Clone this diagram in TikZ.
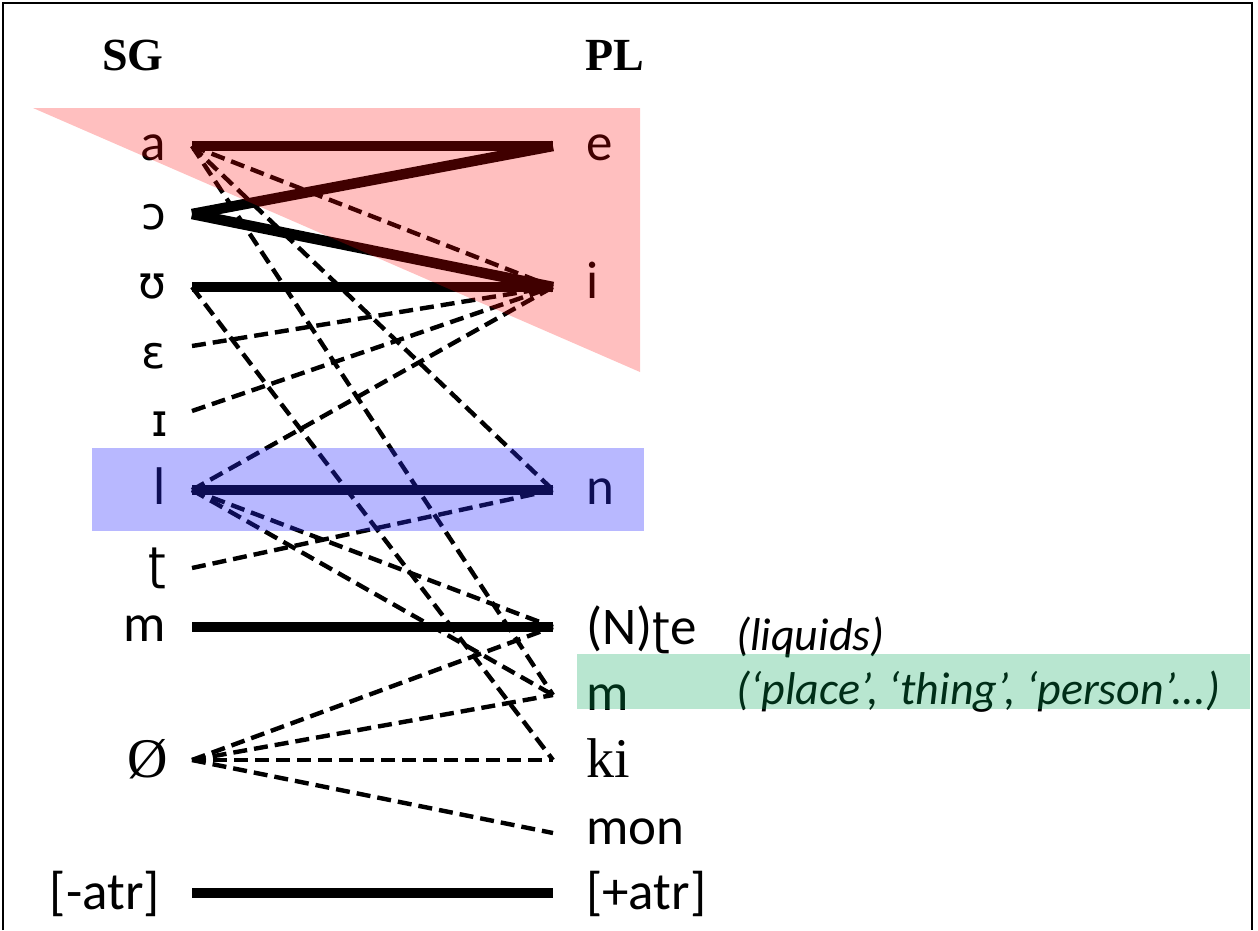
\documentclass[tikz,border=0pt]{standalone}
\usepackage{fontspec}
\setmainfont{Carlito}
\newfontfamily\ipafont{DejaVu Sans}
\newfontfamily\serifont{Liberation Serif}
\definecolor{pinkov}{RGB}{255,0,0}
\definecolor{blueov}{RGB}{40,40,255}
\definecolor{greenov}{RGB}{0,166,87}
\newcommand{\ipa}[1]{{\ipafont\fontsize{45}{52}\selectfont #1}}
\newcommand{\srf}[1]{{\serifont\fontsize{56}{62}\selectfont #1}}
\begin{document}
\begin{tikzpicture}[x=1pt,y=-1pt,
  lab/.style={inner sep=0pt, font=\fontsize{53}{60}\selectfont},
  sglab/.style={lab, anchor=base east},
  pllab/.style={lab, anchor=base west},
  headlab/.style={inner sep=0pt, anchor=base, font=\serifont\bfseries\fontsize{46}{54}\selectfont},
  notelab/.style={inner sep=0pt, anchor=base west, font=\itshape\fontsize{46}{54}\selectfont},
  solidln/.style={line width=10.5pt, line cap=butt, line join=miter},
  dashln/.style={line width=4.4pt, dash pattern=on 14pt off 7pt},
  frameln/.style={line width=1.5pt}]
\useasboundingbox (0,0) rectangle (1258,930);

% frame
\coordinate (f1) at (3,930);
\coordinate (f2) at (3,3);
\coordinate (f3) at (1252,3);
\coordinate (f4) at (1252,930);
\draw[frameln] (f1) -- (f2) -- (f3) -- (f4);

% headings
\node[headlab] (hsg) at (133,70) {SG};
\node[headlab] (hpl) at (615,70) {PL};

% left labels
\node[sglab] (la)  at (166,160) {a};
\node[sglab] (lo)  at (166,229) {\ipa{ɔ}};
\node[sglab] (lu)  at (166,298) {\ipa{ʊ}};
\node[sglab] (le)  at (166,368) {\ipa{ɛ}};
\node[sglab] (li)  at (168,436) {\ipa{ɪ}};
\node[sglab] (ll)  at (166,504) {l};
\node[sglab] (lt)  at (166,579) {\ipa{ʈ}};
\node[sglab] (lm)  at (166,641) {m};
\node[sglab] (lz)  at (168,777) {\srf{Ø}};
\node[sglab] (lx)  at (160,909) {[-atr]};

% right labels
\node[pllab] (re)  at (586,160) {e};
\node[pllab] (ri)  at (586,298) {i};
\node[pllab] (rn)  at (586,504) {n};
\node[pllab] (rt)  at (586,644) {(N)\ipa{ʈ}e};
\node[pllab] (rm)  at (586,710) {m};
\node[pllab] (rk)  at (586,777) {\srf{ki}};
\node[pllab] (rmo) at (586,844) {mon};
\node[pllab] (rx)  at (586,909) {[+atr]};

\node[notelab] (nliq) at (736,650) {(liquids)};
\node[notelab] (nsem) at (736,704) {(‘place’, ‘thing’, ‘person’...)};

% connector end points
\coordinate (sa) at (192,146);
\coordinate (so) at (192,214);
\coordinate (su) at (192,287);
\coordinate (se) at (192,346);
\coordinate (si) at (192,411);
\coordinate (sl) at (192,490);
\coordinate (st) at (192,568);
\coordinate (sm) at (192,627);
\coordinate (sz) at (192,760);
\coordinate (sx) at (192,893);
\coordinate (pe) at (553,146);
\coordinate (pi) at (553,287);
\coordinate (pn) at (553,490);
\coordinate (pt) at (553,627);
\coordinate (pm) at (553,695);
\coordinate (pk) at (553,760);
\coordinate (pmo) at (553,833);
\coordinate (px) at (553,893);

% dashed connectors
\draw[dashln] (sa) -- (pi);
\draw[dashln] (sa) -- (pn);
\draw[dashln] (sa) -- (pm);
\draw[dashln] (su) -- (pk);
\draw[dashln] (se) -- (pi);
\draw[dashln] (si) -- (pi);
\draw[dashln] (sl) -- (pi);
\draw[dashln] (st) -- (pn);
\draw[dashln] (sl) -- (pt);
\draw[dashln] (sl) -- (pm);
\draw[dashln] (sz) -- (pt);
\draw[dashln] (sz) -- (pm);
\draw[dashln] (sz) -- (pk);
\draw[dashln] (sz) -- (pmo);

% solid connectors
\draw[solidln] (sa) -- (pe);
\draw[solidln] (so) -- (pe);
\draw[solidln] (so) -- (pi);
\draw[solidln] (su) -- (pi);
\draw[solidln] (sl) -- (pn);
\draw[solidln] (sm) -- (pt);
\draw[solidln] (sx) -- (px);

% overlays
\coordinate (t1) at (33,108);
\coordinate (t2) at (640,108);
\coordinate (t3) at (640,372);
\fill[pinkov, opacity=0.25] (t1) -- (t2) -- (t3) -- cycle;
\coordinate (b1) at (92,448);
\coordinate (b2) at (644,531);
\fill[blueov, opacity=0.33] (b1) rectangle (b2);
\coordinate (g1) at (577,654);
\coordinate (g2) at (1250,709);
\fill[greenov, opacity=0.28] (g1) rectangle (g2);
\end{tikzpicture}
\end{document}
